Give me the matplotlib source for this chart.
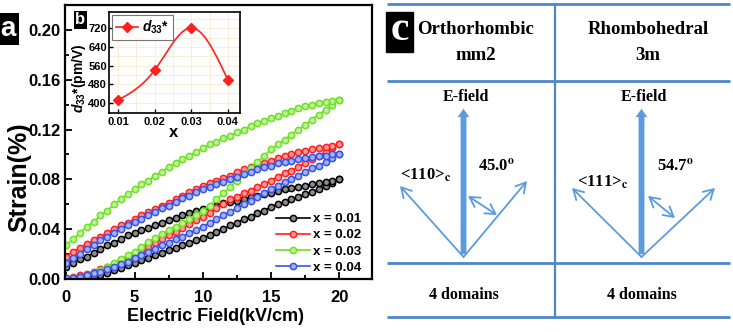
import numpy as np
import matplotlib
matplotlib.use("Agg")
import matplotlib.pyplot as plt
from matplotlib.patches import FancyArrowPatch, Rectangle
from matplotlib.ticker import MultipleLocator, FormatStrFormatter

plt.rcParams['font.family'] = 'Liberation Sans'
plt.rcParams['font.weight'] = 'bold'
plt.rcParams['axes.labelweight'] = 'bold'
plt.rcParams['mathtext.fontset'] = 'custom'
plt.rcParams['mathtext.it'] = 'Liberation Sans:italic:bold'
plt.rcParams['mathtext.bf'] = 'Liberation Sans:bold'
plt.rcParams['mathtext.rm'] = 'Liberation Sans:bold'

# ---- data: strain loops, field every 0.5 kV/cm ----
field = np.linspace(0, 20, 41)

compositions = ['x = 0.01', 'x = 0.02', 'x = 0.03', 'x = 0.04']
colors = ['#000000', '#ff1f1f', '#6fe022', '#3553e8']

# rising branch (0 -> 20 kV/cm)
lower_001 = [0.000, 0.000, 0.000, 0.001, 0.002, 0.003, 0.005, 0.007, 0.009, 0.011,
             0.013, 0.015, 0.017, 0.019, 0.021, 0.023, 0.025, 0.027, 0.029, 0.031,
             0.033, 0.035, 0.038, 0.040, 0.043, 0.045, 0.048, 0.050, 0.053, 0.055,
             0.058, 0.060, 0.062, 0.064, 0.066, 0.068, 0.070, 0.072, 0.075, 0.077, 0.080]
lower_002 = [0.001, 0.002, 0.003, 0.004, 0.006, 0.008, 0.010, 0.012, 0.015, 0.017,
             0.020, 0.023, 0.026, 0.029, 0.032, 0.035, 0.038, 0.041, 0.044, 0.047,
             0.050, 0.053, 0.057, 0.060, 0.064, 0.066, 0.069, 0.071, 0.074, 0.076,
             0.079, 0.082, 0.085, 0.087, 0.090, 0.093, 0.096, 0.099, 0.102, 0.105, 0.108]
lower_003 = [0.000, 0.001, 0.002, 0.003, 0.005, 0.007, 0.010, 0.013, 0.016, 0.019,
             0.022, 0.026, 0.030, 0.033, 0.036, 0.039, 0.042, 0.045, 0.048, 0.051,
             0.055, 0.059, 0.064, 0.069, 0.074, 0.079, 0.084, 0.089, 0.094, 0.099,
             0.104, 0.108, 0.112, 0.116, 0.120, 0.124, 0.128, 0.132, 0.136, 0.140, 0.144]
lower_004 = [0.001, 0.001, 0.002, 0.003, 0.005, 0.006, 0.008, 0.010, 0.012, 0.014,
             0.017, 0.019, 0.022, 0.024, 0.027, 0.029, 0.032, 0.034, 0.037, 0.039,
             0.042, 0.045, 0.048, 0.051, 0.054, 0.057, 0.060, 0.063, 0.066, 0.069,
             0.072, 0.075, 0.078, 0.080, 0.083, 0.086, 0.089, 0.091, 0.094, 0.097, 0.100]

# falling branch (values listed from 0 -> 20 kV/cm)
upper_001 = [0.010, 0.013, 0.016, 0.018, 0.021, 0.024, 0.027, 0.029, 0.032, 0.035,
             0.037, 0.039, 0.041, 0.043, 0.045, 0.047, 0.049, 0.051, 0.053, 0.055,
             0.056, 0.058, 0.059, 0.061, 0.062, 0.063, 0.064, 0.066, 0.067, 0.068,
             0.069, 0.071, 0.072, 0.073, 0.074, 0.075, 0.076, 0.077, 0.078, 0.079, 0.080]
upper_002 = [0.018, 0.022, 0.025, 0.028, 0.031, 0.034, 0.037, 0.040, 0.043, 0.045,
             0.048, 0.051, 0.054, 0.056, 0.059, 0.061, 0.064, 0.067, 0.070, 0.072,
             0.075, 0.077, 0.079, 0.081, 0.083, 0.086, 0.088, 0.090, 0.092, 0.093,
             0.095, 0.097, 0.099, 0.100, 0.102, 0.103, 0.104, 0.105, 0.106, 0.107, 0.108]
upper_003 = [0.027, 0.032, 0.037, 0.042, 0.046, 0.051, 0.055, 0.060, 0.064, 0.068,
             0.072, 0.076, 0.079, 0.083, 0.086, 0.090, 0.093, 0.096, 0.099, 0.102,
             0.105, 0.108, 0.110, 0.113, 0.115, 0.118, 0.120, 0.123, 0.125, 0.127,
             0.129, 0.131, 0.133, 0.135, 0.137, 0.139, 0.140, 0.141, 0.142, 0.143, 0.144]
upper_004 = [0.013, 0.017, 0.020, 0.024, 0.027, 0.031, 0.034, 0.037, 0.040, 0.043,
             0.046, 0.048, 0.051, 0.054, 0.057, 0.059, 0.062, 0.065, 0.067, 0.070,
             0.072, 0.074, 0.076, 0.078, 0.080, 0.082, 0.084, 0.086, 0.088, 0.090,
             0.091, 0.093, 0.094, 0.095, 0.096, 0.097, 0.098, 0.099, 0.099, 0.100, 0.100]

lowers = [lower_001, lower_002, lower_003, lower_004]
uppers = [upper_001, upper_002, upper_003, upper_004]

# inset: d33* vs x
x_comp = [0.01, 0.02, 0.03, 0.04]
d33 = [411, 540, 722, 498]


def natural_spline(xs, ys, n=200):
    # plain natural cubic spline through the points (for the smooth inset line)
    xs = np.asarray(xs, float)
    ys = np.asarray(ys, float)
    k = len(xs)
    h = np.diff(xs)
    A = np.zeros((k, k))
    b = np.zeros(k)
    A[0, 0] = A[-1, -1] = 1
    for i in range(1, k - 1):
        A[i, i - 1] = h[i - 1]
        A[i, i] = 2 * (h[i - 1] + h[i])
        A[i, i + 1] = h[i]
        b[i] = 6 * ((ys[i + 1] - ys[i]) / h[i] - (ys[i] - ys[i - 1]) / h[i - 1])
    M = np.linalg.solve(A, b)
    xx = np.linspace(xs[0], xs[-1], n)
    idx = np.clip(np.searchsorted(xs, xx) - 1, 0, k - 2)
    t = (xx - xs[idx]) / h[idx]
    yy = ((1 - t) * ys[idx] + t * ys[idx + 1]
          - t * (1 - t) / 6 * ((2 - t) * M[idx] + (1 + t) * M[idx + 1]) * h[idx] ** 2)
    return xx, yy


W, H = 733, 332
fig = plt.figure(figsize=(W / 100, H / 100), dpi=100)

# ---------------- panel c (schematic) ----------------
axc = fig.add_axes([0, 0, 1, 1])
axc.set_xlim(0, W)
axc.set_ylim(H, 0)
axc.axis('off')

line_col = '#4d87c9'
arrow_col = '#5a9be0'
for yy in [4, 81, 263, 317]:
    axc.plot([387, 730], [yy, yy], color=line_col, lw=2.0, solid_capstyle='butt')
axc.plot([555, 555], [4, 317], color=line_col, lw=1.6)

axc.add_patch(Rectangle((386, 12), 27, 40, color='black'))
axc.text(399.5, 30, 'c', color='white', fontsize=30, family='Liberation Serif',
         weight='bold', ha='center', va='center')

serif = dict(family='Liberation Serif', weight='bold', math_fontfamily='stix')
axc.text(476, 29, 'Orthorhombic', fontsize=13.5, ha='center', va='center', **serif)
axc.text(476, 56, 'mm2', fontsize=13.5, ha='center', va='center', **serif)
axc.text(648, 29, 'Rhombohedral', fontsize=13.5, ha='center', va='center', **serif)
axc.text(648, 56, '3m', fontsize=13.5, ha='center', va='center', **serif)

# origin x of each arrow fan, tips of the two side arrows, the double arrow
fans = [(463.5, [(400, 186), (527, 181)], [(468, 196), (497, 215)]),
        (641.5, [(572, 188), (715, 188)], [(648, 196), (675, 218)])]
for cx, tips, dbl in fans:
    axc.text(cx + 2, 97, 'E-field', fontsize=11.5, ha='center', va='center', **serif)
    axc.text(cx, 295, '4 domains', fontsize=11.5, ha='center', va='center', **serif)
    axc.add_patch(FancyArrowPatch((cx, 257), (cx, 106),
                  arrowstyle='simple,head_length=0.5,head_width=0.7,tail_width=0.35',
                  mutation_scale=12, color=arrow_col, lw=0))
    for tip in tips:
        axc.add_patch(FancyArrowPatch((cx, 257), tip,
                      arrowstyle='->,head_length=0.35,head_width=0.2',
                      mutation_scale=20, color=arrow_col, lw=1.3, shrinkA=0, shrinkB=0))
    axc.add_patch(FancyArrowPatch(dbl[0], dbl[1],
                  arrowstyle='<->,head_length=0.35,head_width=0.2',
                  mutation_scale=20, color=arrow_col, lw=1.3, shrinkA=0, shrinkB=0))

axc.text(400, 175, r'<110>$_{\mathbf{c}}$', fontsize=12, ha='left', va='center', **serif)
axc.text(577, 182, r'<111>$_{\mathbf{c}}$', fontsize=12, ha='left', va='center', **serif)
axc.text(478, 166, r'45.0$^{\mathbf{o}}$', fontsize=12, ha='left', va='center', **serif)
axc.text(657, 166, r'54.7$^{\mathbf{o}}$', fontsize=12, ha='left', va='center', **serif)

# ---------------- panel a (strain loops) ----------------
ax = fig.add_axes([65 / W, 1 - 279 / H, 307 / W, 274 / H])
for lo, up, lab, col in zip(lowers, uppers, compositions, colors):
    xs = np.concatenate([field, field[::-1]])
    ys = np.concatenate([lo, up[::-1]])
    light = 0.45 * np.array(matplotlib.colors.to_rgb(col)) + 0.55
    ax.plot(xs, ys, '-o', color=col, lw=1.2, ms=4.5, mfc=light, mec=col, mew=1.1, label=lab)

ax.set_xlim(-0.1, 22.4)
ax.set_ylim(0, 0.22)
ax.xaxis.set_major_locator(MultipleLocator(5))
ax.xaxis.set_minor_locator(MultipleLocator(2.5))
ax.yaxis.set_major_locator(MultipleLocator(0.04))
ax.yaxis.set_minor_locator(MultipleLocator(0.02))
ax.yaxis.set_major_formatter(FormatStrFormatter('%.2f'))
ax.tick_params(which='both', direction='in', width=1.3, labelsize=12)
ax.tick_params(which='major', length=5)
ax.tick_params(which='minor', length=3)
ax.tick_params(axis='x', pad=8)
ax.tick_params(axis='y', pad=3)
for s in ax.spines.values():
    s.set_linewidth(1.6)
ax.set_xlabel('Electric Field(kV/cm)', fontsize=13)
ax.set_ylabel('Strain(%)', fontsize=18)
ax.xaxis.set_label_coords(0.489, -0.105)
ax.yaxis.set_label_coords(-0.11, 0.372)

ax.legend(loc='lower right', bbox_to_anchor=(0.99, -0.01), frameon=False, fontsize=9.5,
          handlelength=2.6, handletextpad=0.2, labelspacing=0.3, borderaxespad=0.2)

fig.text(0, 1 - 29 / H, 'a', color='white', fontsize=20, weight='bold', va='center', ha='left',
         bbox=dict(boxstyle='square,pad=0.12', fc='black', ec='none'))

# ---------------- inset b ----------------
axi = fig.add_axes([109 / W, 1 - 113 / H, 131 / W, 101 / H])
xx, yy = natural_spline(x_comp, d33)
axi.plot(xx, yy, color='#ff2020', lw=1.2)
axi.plot(x_comp, d33, 'D', color='#ff2020', ms=5, ls='none')
axi.plot([], [], '-D', color='#ff2020', ms=5, lw=1.2, label=r'$\mathit{d}_{33}$*')
axi.set_xlim(0.00755, 0.0433)
axi.set_ylim(356, 790)
axi.xaxis.set_major_locator(MultipleLocator(0.01))
axi.xaxis.set_minor_locator(MultipleLocator(0.005))
axi.yaxis.set_major_locator(MultipleLocator(80))
axi.yaxis.set_minor_locator(MultipleLocator(40))
axi.xaxis.set_major_formatter(FormatStrFormatter('%.2f'))
axi.grid(True, which='both', color='#f7ebd2', lw=0.6)
axi.set_axisbelow(True)
axi.tick_params(which='both', direction='in', width=1.0, labelsize=8)
axi.tick_params(which='major', length=3)
axi.tick_params(which='minor', length=0)
axi.tick_params(axis='x', pad=3)
axi.tick_params(axis='y', pad=1.5)
for s in axi.spines.values():
    s.set_linewidth(1.2)
axi.set_xlabel('x', fontsize=12)
axi.set_ylabel(r'$\mathit{d}_{33}$*(pm/V)', fontsize=10)
axi.xaxis.set_label_coords(0.496, -0.12)
axi.yaxis.set_label_coords(-0.16, 0.34)
leg = axi.legend(loc='upper left', fontsize=10, handlelength=1.6, handletextpad=0.3,
                 borderpad=0.25, borderaxespad=0.25, fancybox=False)
leg.get_frame().set_edgecolor('#555555')
leg.get_frame().set_linewidth(0.8)

fig.text(80.5 / W, 1 - 20 / H, 'b', color='white', fontsize=12, weight='bold', va='center',
         ha='center', bbox=dict(boxstyle='square,pad=0.1', fc='black', ec='none'))

fig.savefig('out.png', dpi=100)
